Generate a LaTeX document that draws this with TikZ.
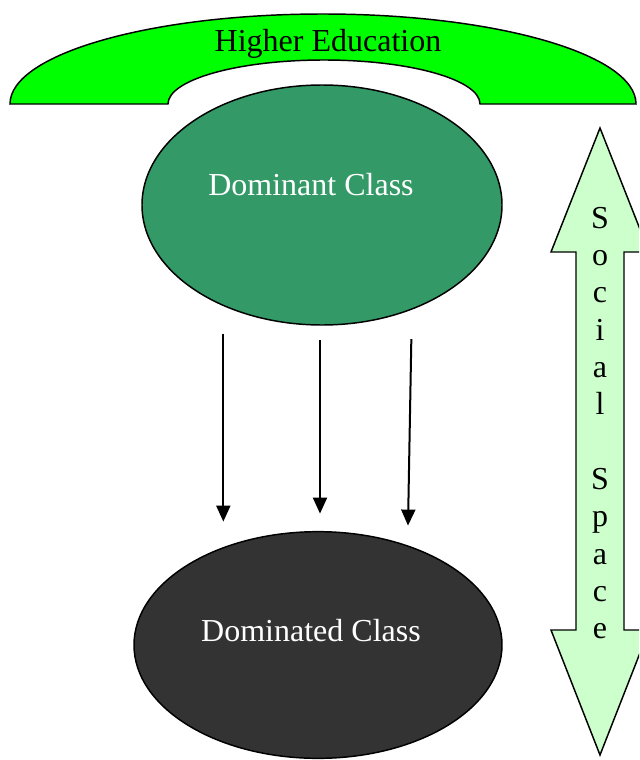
\documentclass[tikz,border=0pt]{standalone}
\usepackage{fontspec}
\setmainfont{Liberation Serif}
\usetikzlibrary{shapes.geometric,arrows.meta}
\definecolor{archgreen}{HTML}{00FF00}
\definecolor{domgreen}{HTML}{339966}
\definecolor{domgrey}{HTML}{333333}
\definecolor{spacegreen}{HTML}{CCFFCC}
\begin{document}
\begin{tikzpicture}[x=0.75pt,y=-0.75pt]
	\tikzset{txt/.style={font=\fontsize{24}{26}\selectfont, align=center, inner sep=0pt},
	  blob/.style={ellipse, draw=black, line width=1.1pt, inner sep=0pt},
	  arr/.style={line width=1.5pt, -{Triangle[width=10.5pt,length=12pt]}}
	}
	\useasboundingbox (0,0) rectangle (639,760);
	\clip (0,0) rectangle (639,760);
	% arch
	\draw[line width=1.1pt, fill=archgreen] (10,104) arc[start angle=180, end angle=0, x radius=234.75pt, y radius=67.5pt]
	  -- (480,104) arc[start angle=0, end angle=180, x radius=117pt, y radius=33pt] -- cycle;
	\node[txt] (arch) at (328,44) {Higher Education};
	% classes
	\node[blob, fill=domgreen, minimum width=270pt, minimum height=180pt] (dom) at (322,205) {};
	\node[txt, text=white] (domtxt) at (311,185) {Dominant Class};
	\node[blob, fill=domgrey, minimum width=276pt, minimum height=170pt] (dtd) at (318,645) {};
	\node[txt, text=white] (dtdtxt) at (311,631) {Dominated Class};
	\draw[arr] ([xshift=-74pt,yshift=-6pt]dom.south) -- ([xshift=-71pt,yshift=7pt]dtd.north);
	\draw[arr] ([xshift=-1.5pt,yshift=-11pt]dom.south) -- ([xshift=1.5pt,yshift=13pt]dtd.north);
	\draw[arr] ([xshift=67pt,yshift=-10pt]dom.south) -- ([xshift=67.5pt,yshift=4pt]dtd.north);
	% social space
	\draw[line width=1.1pt, fill=spacegreen] (600,128) -- (551,252) -- (576,252) -- (576,630) -- (551,630) -- (600,755)
	  -- (649,630) -- (624,630) -- (624,252) -- (649,252) -- cycle;
	\node[txt, font=\fontsize{24}{28}\selectfont] (space) at (600,423) {S\\o\\c\\i\\a\\l\\\mbox{}\\S\\p\\a\\c\\e};
\end{tikzpicture}
\end{document}
